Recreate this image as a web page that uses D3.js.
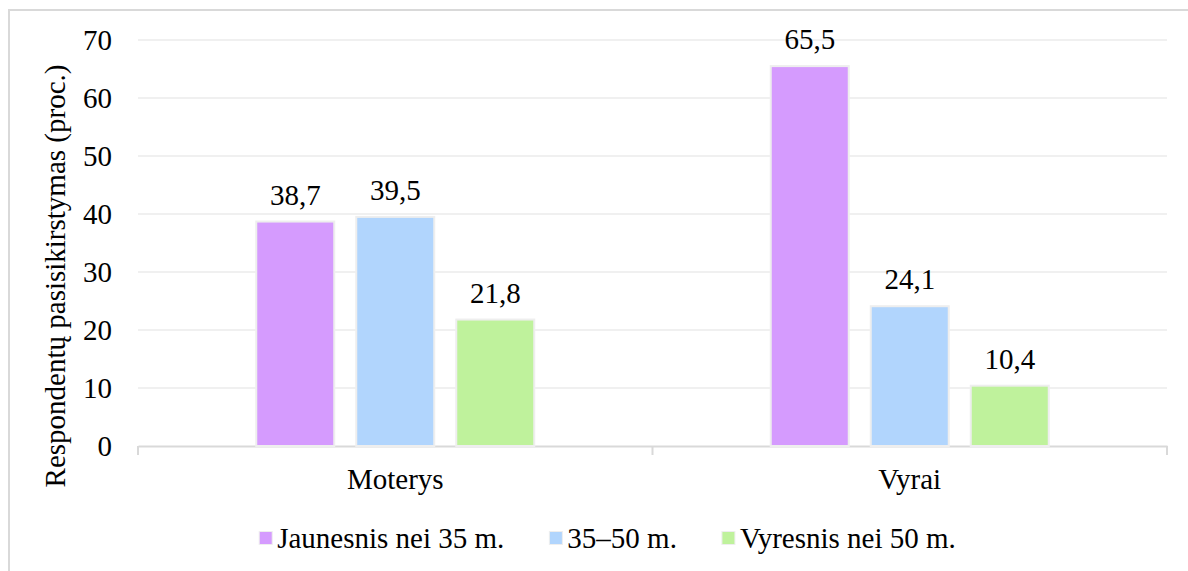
<!DOCTYPE html>
<html>
<head>
<meta charset="utf-8">
<script src="https://cdn.jsdelivr.net/npm/d3@7/dist/d3.min.js"></script>
<style>
  html, body { margin: 0; padding: 0; background: #fff; }
  svg { display: block; }
  svg text { font-family: "Liberation Serif", Tinos, "Times New Roman", serif; fill: #000; }
</style>
</head>
<body>
<svg id="chart" width="1188" height="571"></svg>
<script>
// Respondent distribution by gender and age group (percent)
const categories = ["Moterys", "Vyrai"];
const seriesNames = ["Jaunesnis nei 35 m.", "35–50 m.", "Vyresnis nei 50 m."];
const seriesColors = ["#d59bfe", "#b1d5fd", "#bff29c"];
const valuesJaunesni = [38.7, 65.5];
const values35to50 = [39.5, 24.1];
const valuesVyresni = [21.8, 10.4];
const yTicks = [0, 10, 20, 30, 40, 50, 60, 70];
const yTitle = "Respondentų pasisikirstymas (proc.)";

const series = [valuesJaunesni, values35to50, valuesVyresni];
const fmt = v => String(v).replace(".", ",");

const svg = d3.select("#chart");
const W = 1188, H = 571;
const plot = { left: 138, right: 1167, top: 40, bottom: 446 };
const FS = 29;
const FONT = '"Liberation Serif", Tinos, "Times New Roman", serif';

// chart frame
svg.append("rect")
  .attr("x", 9).attr("y", 10).attr("width", W + 20).attr("height", H + 20)
  .attr("fill", "#fff").attr("stroke", "#d9d9d9").attr("stroke-width", 2);

const y = d3.scaleLinear().domain([0, 70]).range([plot.bottom, plot.top]);
const x0 = d3.scaleBand().domain(categories).range([plot.left, plot.right]).padding(0);

// gridlines
svg.append("g")
  .selectAll("line")
  .data(yTicks.filter(t => t > 0))
  .join("line")
  .attr("x1", plot.left).attr("x2", plot.right)
  .attr("y1", d => y(d)).attr("y2", d => y(d))
  .attr("stroke", "#ebebeb").attr("stroke-width", 1.5);

// y axis labels
const yAxis = svg.append("g")
  .attr("transform", `translate(${plot.left},0)`)
  .call(d3.axisLeft(y).tickValues(yTicks).tickSize(0).tickPadding(26).tickFormat(d => d))
  .attr("font-family", FONT).attr("font-size", FS);
yAxis.select(".domain").remove();
yAxis.selectAll("text").attr("fill", "#000");

// x axis
const xAxis = svg.append("g")
  .attr("transform", `translate(0,${plot.bottom})`)
  .call(d3.axisBottom(x0).tickSize(0).tickPadding(22))
  .attr("font-family", FONT).attr("font-size", FS);
xAxis.select(".domain").attr("stroke", "#d9d9d9").attr("stroke-width", 2);
xAxis.selectAll("text").attr("fill", "#000");
// category boundary ticks
xAxis.append("g").selectAll("line")
  .data([plot.left, plot.left + x0.bandwidth(), plot.right])
  .join("line")
  .attr("x1", d => d).attr("x2", d => d)
  .attr("y1", 0).attr("y2", 9)
  .attr("stroke", "#d9d9d9").attr("stroke-width", 2);

// bars
const groupSpan = 278;
categories.forEach((cat, ci) => {
  const cx = x0(cat) + x0.bandwidth() / 2;
  const x1 = d3.scaleBand().domain(seriesNames)
    .range([cx - groupSpan / 2, cx + groupSpan / 2])
    .paddingInner(0.22).paddingOuter(0);
  const g = svg.append("g").attr("font-family", FONT);
  seriesNames.forEach((name, si) => {
    const v = series[si][ci];
    g.append("rect")
      .attr("x", x1(name)).attr("width", x1.bandwidth())
      .attr("y", y(v)).attr("height", y(0) - y(v))
      .attr("fill", seriesColors[si])
      .attr("stroke", "#eeeeee").attr("stroke-width", 2);
    g.append("text")
      .attr("x", x1(name) + x1.bandwidth() / 2)
      .attr("y", y(v) - 17)
      .attr("text-anchor", "middle")
      .attr("font-size", FS)
      .text(fmt(v));
  });
});

// y axis title
svg.append("text")
  .attr("transform", `translate(65,276) rotate(-90)`)
  .attr("text-anchor", "middle")
  .attr("font-family", FONT)
  .attr("font-size", FS)
  .text(yTitle);

// legend
const legend = svg.append("g").attr("font-family", FONT);
const legendY = 538;
const legendCenter = 607.5;
const swatch = 13, gapSwatch = 5, gapItem = 45;
const items = seriesNames.map((name, i) => {
  const it = legend.append("g");
  it.append("rect")
    .attr("x", 0).attr("y", legendY - swatch / 2)
    .attr("width", swatch).attr("height", swatch)
    .attr("fill", seriesColors[i]).attr("stroke", "#eeeeee").attr("stroke-width", 1);
  const t = it.append("text")
    .attr("x", swatch + gapSwatch).attr("y", legendY + 10)
    .attr("font-size", FS).text(name);
  return { g: it, w: swatch + gapSwatch + t.node().getComputedTextLength() };
});
const total = d3.sum(items, d => d.w) + gapItem * (items.length - 1);
let lx = legendCenter - total / 2;
items.forEach(d => { d.g.attr("transform", `translate(${lx},0)`); lx += d.w + gapItem; });
</script>
</body>
</html>
